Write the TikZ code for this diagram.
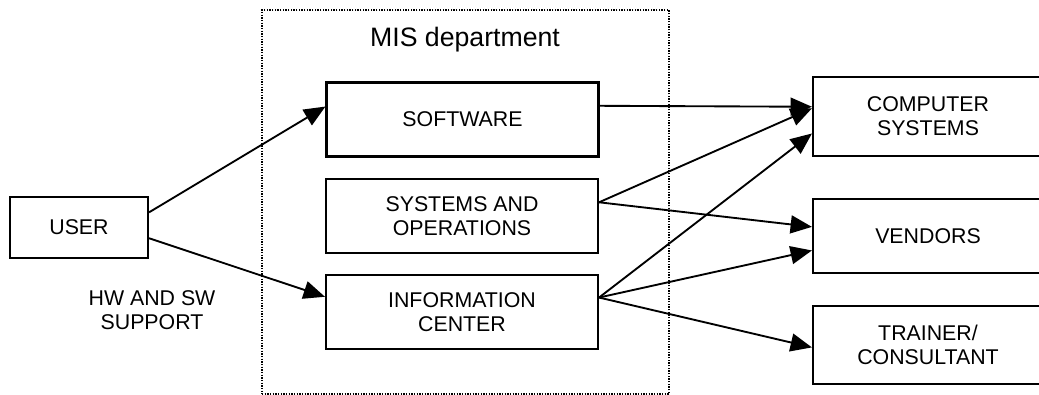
\documentclass[tikz,border=0pt]{standalone}
\usepackage{fontspec}
\setmainfont{Liberation Sans}
\usetikzlibrary{arrows.meta,calc}

\tikzset{every picture/.style={line width=0.75pt}}
\tikzset{
  box/.style={draw, line width=1.6pt, inner sep=0.75pt, align=center, font=\fontsize{16}{18}\selectfont},
  midbox/.style={box, minimum width=204pt, minimum height=55.5pt},
  outbox/.style={box, minimum width=172.5pt},
  link/.style={line width=1.4pt, -{Triangle[length=16pt,width=13.5pt]}},
  label/.style={inner sep=0.75pt, align=center, font=\fontsize{16}{18}\selectfont}
}

\begin{document}
\begin{tikzpicture}[x=0.75pt,y=0.75pt,yscale=-1,xscale=1]
\useasboundingbox (0,0) rectangle (1039,395);
\clip (0,0) rectangle (1039,395);

%Shape: Rectangle [dotted]
\node [draw, densely dotted, line width=1pt, minimum width=305.25pt, minimum height=288pt] (mis) at (465.5,202) {};
% Text Node
\node [label, font=\fontsize{20}{24}\selectfont] (mistitle) at (465,40) {MIS department};

%Shape: Rectangle
\node [box, minimum width=103.5pt, minimum height=45.75pt] (user) at (79,227.5) {USER};
% Text Node
\node [label] (support) at (152,310) {HW AND SW\\SUPPORT};

%Shape: Rectangle
\node [midbox] (software) at (462.5,119.5) {SOFTWARE};
\node [midbox] (sysops) at (462,216) {SYSTEMS AND\\OPERATIONS};
\node [midbox] (infocenter) at (462,312) {INFORMATION\\CENTER};

%Shape: Rectangle
\node [outbox, minimum height=59.25pt] (compsys) at (928,116.5) {COMPUTER\\SYSTEMS};
\node [outbox, minimum height=55.5pt] (vendors) at (928,236) {VENDORS};
\node [outbox, minimum height=58.5pt] (trainer) at (928,345) {TRAINER/\\CONSULTANT};

%Straight Lines
\draw [link] ($(user.north east)!0.26!(user.south east)$) -- ($(software.north west)!0.33!(software.south west)$);
\draw [link] ($(user.north east)!0.67!(user.south east)$) -- ($(infocenter.north west)!0.30!(infocenter.south west)$);

\draw [link] ($(software.north east)!0.32!(software.south east)$) -- ($(compsys.north west)!0.38!(compsys.south west)$);
\draw [link] ($(sysops.north east)!0.32!(sysops.south east)$) -- ($(compsys.north west)!0.40!(compsys.south west)$);
\draw [link] ($(sysops.north east)!0.32!(sysops.south east)$) -- ($(vendors.north west)!0.38!(vendors.south west)$);
\draw [link] ($(infocenter.north east)!0.31!(infocenter.south east)$) -- ($(compsys.north west)!0.71!(compsys.south west)$);
\draw [link] ($(infocenter.north east)!0.31!(infocenter.south east)$) -- ($(vendors.north west)!0.69!(vendors.south west)$);
\draw [link] ($(infocenter.north east)!0.31!(infocenter.south east)$) -- ($(trainer.north west)!0.53!(trainer.south west)$);

\end{tikzpicture}
\end{document}
